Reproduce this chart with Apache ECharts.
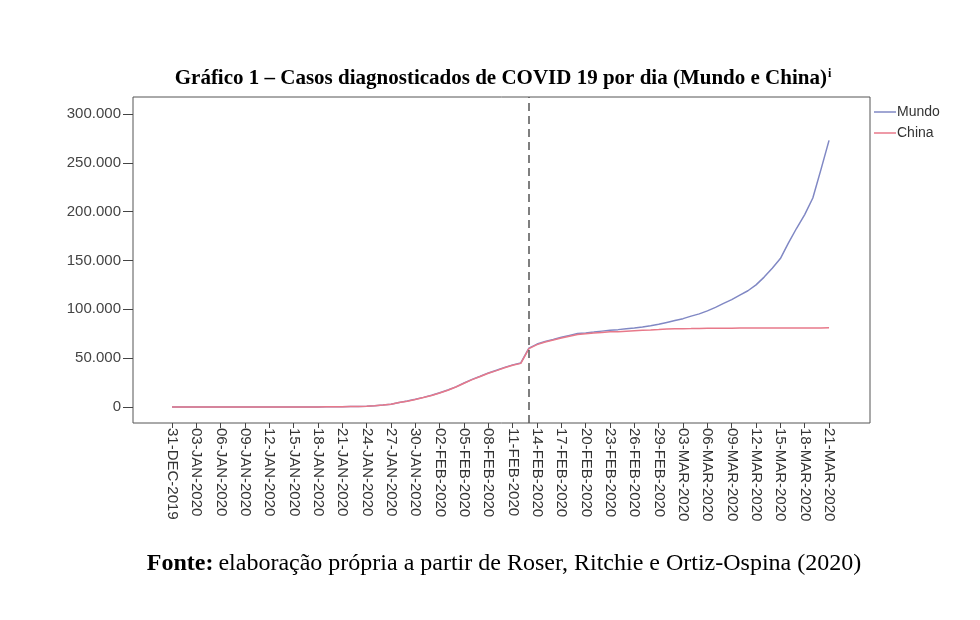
<!DOCTYPE html>
<html>
<head>
<meta charset="utf-8">
<title>Casos diagnosticados de COVID 19</title>
<script src="https://cdn.jsdelivr.net/npm/echarts@6/dist/echarts.min.js"></script>
<style>
  html, body { margin: 0; padding: 0; background: #fff; }
  #chart { width: 980px; height: 620px; }
</style>
</head>
<body>
<div id="chart"></div>
<script>
// dia 0 = 31-DEC-2019, um valor por dia ate 21-MAR-2020
var tickLabels = [
  "31-DEC-2019", "03-JAN-2020", "06-JAN-2020", "09-JAN-2020", "12-JAN-2020",
  "15-JAN-2020", "18-JAN-2020", "21-JAN-2020", "24-JAN-2020", "27-JAN-2020",
  "30-JAN-2020", "02-FEB-2020", "05-FEB-2020", "08-FEB-2020", "11-FEB-2020",
  "14-FEB-2020", "17-FEB-2020", "20-FEB-2020", "23-FEB-2020", "26-FEB-2020",
  "29-FEB-2020", "03-MAR-2020", "06-MAR-2020", "09-MAR-2020", "12-MAR-2020",
  "15-MAR-2020", "18-MAR-2020", "21-MAR-2020"
];
var tickStep = 3;
var yTicks = [0, 50000, 100000, 150000, 200000, 250000, 300000];
var markDay = 44; // 13-FEB-2020

var mundo = [
  27, 27, 27, 44, 44, 59, 59, 59, 59, 59,
  59, 59, 59, 60, 60, 61, 61, 66, 66, 125,
  204, 300, 450, 584, 849, 1320, 2016, 2798, 4593, 6065,
  7818, 9826, 11946, 14552, 17389, 20627, 24553, 28276, 31439, 34876,
  37552, 40553, 43099, 45134, 60315, 64438, 67100, 69197, 71329, 73332,
  75184, 75700, 76677, 77673, 78651, 79205, 80087, 80828, 81820, 83112,
  84615, 86604, 88585, 90443, 93016, 95314, 98425, 102050, 106099, 109991,
  114600, 119000, 125000, 133000, 142000, 152000, 168000, 183000, 197000, 214000,
  243000, 273000
];
var china = [
  27, 27, 27, 44, 44, 59, 59, 59, 59, 59,
  59, 59, 59, 59, 59, 59, 59, 62, 62, 121,
  198, 291, 440, 571, 830, 1287, 1975, 2744, 4515, 5974,
  7711, 9692, 11791, 14380, 17205, 20438, 24324, 28018, 31161, 34546,
  37198, 40171, 42638, 44653, 59804, 63851, 66492, 68500, 70548, 72436,
  74185, 74976, 75665, 76288, 76936, 77150, 77658, 78064, 78497, 78824,
  79251, 79824, 80026, 80151, 80270, 80409, 80552, 80651, 80695, 80735,
  80754, 80778, 80793, 80813, 80824, 80844, 80860, 80881, 80894, 80928,
  80967, 81008
];

function pairs(arr) {
  return arr.map(function (v, i) { return [i, v]; });
}
function fmtPt(v) {
  return String(v).replace(/\B(?=(\d{3})+(?!\d))/g, ".");
}

var xTicks = tickLabels.map(function (t, i) { return i * tickStep; });

var myChart = echarts.init(document.getElementById("chart"));
var option = {
  backgroundColor: "#ffffff",
  animation: false,
  title: [
    {
      text: "{t|Gráfico 1 – Casos diagnosticados de COVID 19 por dia (Mundo e China)}{s|i}",
      left: 498,
      textAlign: "center",
      top: 63,
      textStyle: {
        rich: {
          t: { fontFamily: "Liberation Serif", fontWeight: "bold", fontSize: 21, color: "#000" },
          s: { fontFamily: "Liberation Serif", fontWeight: "bold", fontSize: 12, color: "#000", padding: [0, 0, 9, 1] }
        }
      }
    },
    {
      text: "{b|Fonte:} {n|elaboração própria a partir de Roser, Ritchie e Ortiz-Ospina (2020)}",
      left: 499,
      textAlign: "center",
      top: 547,
      textStyle: {
        rich: {
          b: { fontFamily: "Liberation Serif", fontWeight: "bold", fontSize: 24, color: "#000" },
          n: { fontFamily: "Liberation Serif", fontWeight: "normal", fontSize: 24, color: "#000" }
        }
      }
    }
  ],
  legend: {
    orient: "vertical",
    left: 869,
    top: 100,
    itemGap: 7,
    itemWidth: 22,
    itemHeight: 1.5,
    icon: "rect",
    textStyle: { fontFamily: "Liberation Sans", fontSize: 14, color: "#333", padding: [0, 0, 0, -4] },
    data: ["Mundo", "China"]
  },
  grid: {
    left: 133,
    right: 110,
    top: 97,
    bottom: 197,
    show: true,
    borderColor: "#555",
    borderWidth: 1
  },
  xAxis: {
    type: "value",
    min: -4.81,
    max: 86.05,
    splitLine: { show: false },
    axisLine: { show: false, onZero: false },
    axisTick: {
      show: true,
      length: 5,
      customValues: xTicks,
      lineStyle: { color: "#444" }
    },
    axisLabel: {
      customValues: xTicks,
      rotate: -90,
      margin: 5,
      fontFamily: "Liberation Sans",
      fontSize: 15,
      color: "#333",
      formatter: function (v) {
        return tickLabels[Math.round(v / tickStep)];
      }
    }
  },
  yAxis: {
    type: "value",
    min: -16400,
    max: 317400,
    splitLine: { show: false },
    axisLine: { show: false, onZero: false },
    axisTick: {
      show: true,
      length: 10,
      customValues: yTicks,
      lineStyle: { color: "#444" }
    },
    axisLabel: {
      customValues: yTicks,
      margin: 12,
      fontFamily: "Liberation Sans",
      fontSize: 15,
      color: "#444",
      formatter: function (v) { return fmtPt(v); }
    }
  },
  series: [
    {
      name: "Mundo",
      type: "line",
      showSymbol: false,
      color: "#8088c4",
      lineStyle: { width: 1.5, color: "#8088c4" },
      data: pairs(mundo),
      markLine: {
        silent: true,
        symbol: "none",
        label: { show: false },
        lineStyle: { type: [8, 5], color: "#555", width: 1.5 },
        data: [{ xAxis: markDay }]
      }
    },
    {
      name: "China",
      type: "line",
      showSymbol: false,
      color: "#e8798a",
      lineStyle: { width: 1.5, color: "#e8798a" },
      data: pairs(china)
    }
  ]
};
myChart.setOption(option);
</script>
</body>
</html>
